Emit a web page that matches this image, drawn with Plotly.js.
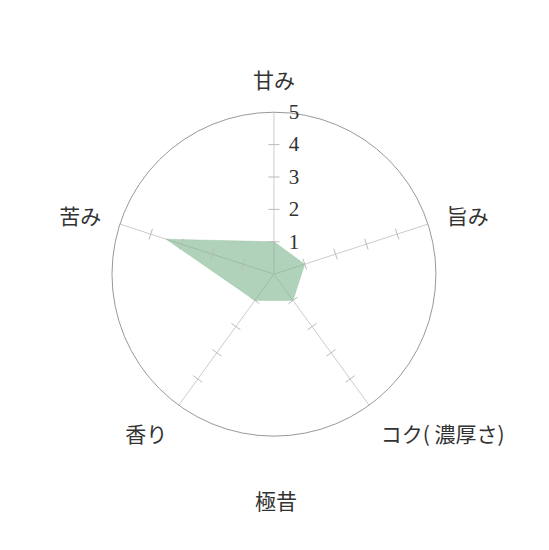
<!DOCTYPE html>
<html>
<head>
<meta charset="utf-8">
<script src="https://cdn.plot.ly/plotly-3.0.1.min.js"></script>
<style>
  html, body { margin: 0; padding: 0; background: #fff; }
  #chart { width: 549px; height: 550px; }
</style>
</head>
<body>
<div id="chart"></div>
<script>
// taste profile
var categories = ["甘み", "旨み", "コク( 濃厚さ)", "香り", "苦み"];
var values = [1, 1, 1, 1, 3.5];
var tickValues = [1, 2, 3, 4, 5];
var tickMarkValues = [1, 2, 3, 4];
var productName = "極昔";

// spoke screen angles (rotation 90, clockwise)
var step = 360 / categories.length;

var tickR = [], tickTheta = [], tickRot = [];
categories.forEach(function (c, i) {
    var screenAngle = 90 - i * step;
    tickMarkValues.forEach(function (v) {
        tickR.push(v);
        tickTheta.push(c);
        tickRot.push(90 - screenAngle);
    });
});

var shape = {
    type: "scatterpolar",
    r: values.concat([values[0]]),
    theta: categories.concat([categories[0]]),
    mode: "lines",
    fill: "toself",
    fillcolor: "rgba(125,180,140,0.6)",
    line: { color: "rgba(125,180,140,0.6)", width: 0.5 },
    hoverinfo: "skip"
};

var ticks = {
    type: "scatterpolar",
    r: tickR,
    theta: tickTheta,
    mode: "markers",
    marker: {
        symbol: "line-ew",
        size: 8,
        angle: tickRot,
        line: { color: "#bbbbbb", width: 1 }
    },
    hoverinfo: "skip"
};

var layout = {
    width: 549,
    height: 550,
    margin: { l: 0, r: 0, t: 0, b: 0 },
    showlegend: false,
    paper_bgcolor: "#ffffff",
    font: { family: "Noto Sans CJK JP", color: "#333333" },
    polar: {
        domain: { x: [0.204, 0.794], y: [0.207, 0.796] },
        bgcolor: "rgba(0,0,0,0)",
        angularaxis: {
            type: "category",
            categoryarray: categories,
            rotation: 90,
            direction: "clockwise",
            showline: true,
            linecolor: "#999999",
            linewidth: 1,
            gridcolor: "#cccccc",
            gridwidth: 1,
            ticks: "outside",
            ticklen: 15,
            tickcolor: "rgba(0,0,0,0)",
            tickfont: { family: "Noto Sans CJK JP", size: 21, color: "#333333" }
        },
        radialaxis: {
            range: [0, 5],
            angle: 90,
            side: "clockwise",
            tickangle: 90,
            tickvals: tickValues,
            showgrid: false,
            showline: false,
            ticks: "outside",
            ticklen: 10,
            tickcolor: "rgba(0,0,0,0)",
            tickfont: { family: "Liberation Serif", size: 21, color: "#333333" }
        }
    },
    annotations: [{
        text: productName,
        xref: "paper", yref: "paper",
        x: 0.503, y: 0.091,
        yanchor: "middle",
        showarrow: false,
        font: { family: "Noto Sans CJK JP", size: 21, color: "#333333" }
    }]
};

Plotly.newPlot("chart", [shape, ticks], layout, { displayModeBar: false, staticPlot: true });
</script>
</body>
</html>
